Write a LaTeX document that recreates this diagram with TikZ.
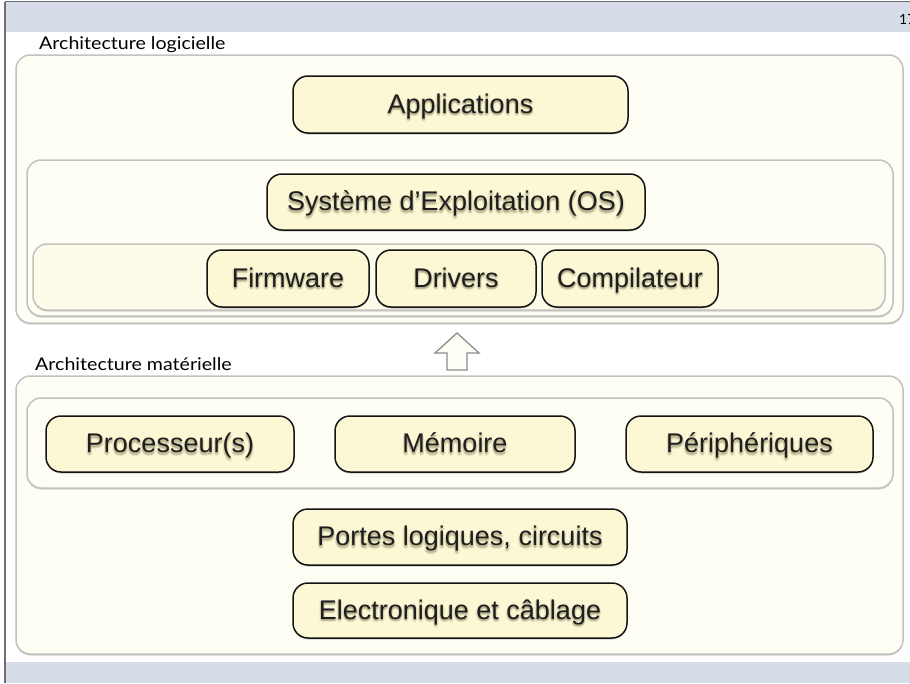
\documentclass[tikz,border=0pt]{standalone}
\usepackage{fontspec}
\usepackage{graphicx}
\setmainfont{Liberation Sans}
\newfontfamily\labelfont{Lato}
\usetikzlibrary{shadows}

\definecolor{band}{HTML}{D6DDE8}
\definecolor{frameline}{HTML}{6E6E78}
\definecolor{panel}{HTML}{FFFEF5}
\definecolor{rowpanel}{HTML}{FDFBEA}
\definecolor{panelline}{HTML}{C2C2BE}
\definecolor{boxfill}{HTML}{FCF8D6}
\definecolor{glow}{HTML}{5E5830}
\definecolor{ink}{HTML}{1E1E1E}

\tikzset{
  panelbox/.style={draw=panelline, line width=1.5pt, fill=panel, rounded corners=14pt,
    inner sep=0pt,
    drop shadow={shadow xshift=0pt, shadow yshift=-1.5pt, opacity=.18, fill=black}},
  unit/.style={draw=black!92, line width=1.5pt, fill=boxfill, rounded corners=15pt,
    inner sep=0pt,
    drop shadow={shadow xshift=0pt, shadow yshift=-1.5pt, opacity=.2, fill=black}},
  unittext/.style={font=\fontsize{27}{32}\selectfont, text=ink, inner sep=0pt,
    text height=19.5pt, text depth=0pt},
  caption/.style={font=\labelfont\fontsize{17.5}{20}\selectfont, text=black,
    anchor=base west, inner sep=0pt},
  hollowarrow/.style={draw=black!45, line width=1.3pt, fill=panel, line join=miter},
}

% yellow box with its centred label and a soft halo under the letters
\newcommand\unitbox[6]{%
  \node[unit, minimum width=#4pt, minimum height=#5pt] (#1) at (#2,#3) {};
  \foreach \gx/\gy in {0/-2,1/-2.5,-1/-2.5,0/-3.5,1.5/-1.5,-1.5/-1.5,0/-1}
    \node[unittext, text=glow, opacity=.1] at ([shift={(\gx pt,1pt+\gy pt)}]#1.center) {#6};
  \node[unittext] (#1-t) at ([yshift=1pt]#1.center) {#6};
}

\begin{document}
\begin{tikzpicture}[x=1pt,y=-1pt]
\useasboundingbox (0,0) rectangle (910,683);
\clip (0,0) rectangle (910,683);

% slide frame: title band, footer band, border lines
\fill[white] (0,0) rectangle (910,683);
\fill[band] (5,1.5) rectangle (910,32);
\fill[band] (5,662) rectangle (910,683);
\draw[frameline, line width=1.5pt] (5,1.5) -- (910,1.5);
\draw[frameline, line width=1.5pt] (5,1.5) -- (5,683);
\node[font=\labelfont\fontsize{14}{16}\selectfont, anchor=base west, inner sep=0pt] (pagenum) at (899,24) {17};

% software stack
\node[caption] (swlabel) at (39,49) {\scalebox{1.12}[1]{Architecture logicielle}};
\node[panelbox, minimum width=887pt, minimum height=268pt] (sw) at (459.5,189) {};
\unitbox{app}{460.5}{104.5}{335}{57}{Applications}
\node[panelbox, minimum width=866pt, minimum height=156pt] (ospanel) at (460,238) {};
\unitbox{os}{456}{202}{378}{56}{Système d’Exploitation (OS)}
\node[panelbox, fill=rowpanel, minimum width=852pt, minimum height=66pt] (lowrow) at (459,277) {};
\unitbox{fw}{288}{278.5}{162}{57}{Firmware}
\unitbox{drv}{456}{278.5}{160}{57}{Drivers}
\unitbox{comp}{630}{278.5}{176}{57}{Compilateur}

% hollow arrow between the two layers
\draw[hollowarrow] (457,333) -- (479,353) -- (467,353) -- (467,370) -- (447,370)
  -- (447,353) -- (435,353) -- cycle;

% hardware stack
\node[caption] (hwlabel) at (35,370) {\scalebox{1.12}[1]{Architecture matérielle}};
\node[panelbox, minimum width=887pt, minimum height=278pt] (hw) at (459.5,515) {};
\node[panelbox, minimum width=866pt, minimum height=90pt] (hwrow) at (460,443) {};
\unitbox{proc}{170}{444}{248}{56}{Processeur(s)}
\unitbox{mem}{455}{444}{240}{56}{Mémoire}
\unitbox{peri}{749.5}{444}{247}{56}{Périphériques}
\unitbox{gates}{460}{537}{334}{56}{Portes logiques, circuits}
\unitbox{elec}{460}{610.5}{334}{55}{Electronique et câblage}
\end{tikzpicture}
\end{document}
